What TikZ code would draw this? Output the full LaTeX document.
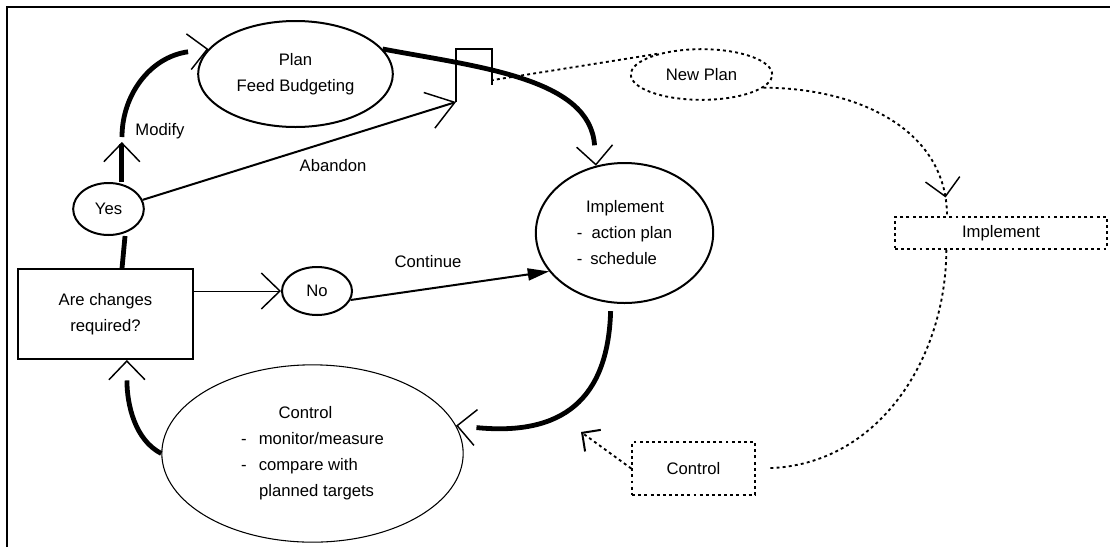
\documentclass[tikz,border=0pt]{standalone}
\usepackage{fontspec}
\setmainfont{Liberation Sans}
\usetikzlibrary{shapes.geometric,arrows.meta,decorations.markings}

\tikzset{
  openV/.tip={Straight Barb[length=14pt,width=27pt,line width=1.1pt]},
  cornerV/.tip={Straight Barb[length=10pt,width=20pt,line width=1.5pt]},
  bubble/.style={draw, ellipse, line width=1.5pt, inner sep=0pt, align=center},
  dotbubble/.style={bubble, line width=1.4pt, dash pattern=on 2.2pt off 2.4pt},
  dotbox/.style={draw, rectangle, line width=1.4pt, dash pattern=on 2.2pt off 2.4pt, inner sep=0pt},
  stem/.style={line width=3.6pt},
  dotflow/.style={line width=1.4pt, dash pattern=on 2.2pt off 2.4pt},
}

\begin{document}
\begin{tikzpicture}[x=0.75pt, y=-0.75pt, font=\fontsize{12.5}{19.5}\selectfont]
    \useasboundingbox (0,0) rectangle (1110,547);
    \draw[line width=1.1pt] (7,547) -- (7,7) -- (1110,7);

    % solid loop
    \node[bubble, minimum width=146pt, minimum height=79.5pt] (plan) at (295.5,74) {Plan\\Feed Budgeting};
    \node[bubble, minimum width=53pt, minimum height=39pt] (yes) at (108.5,209) {Yes};
    \node[draw, line width=1.5pt, minimum width=131pt, minimum height=67.5pt, align=center] (ask) at (105.5,314) {Are changes\\required?};
    \node[bubble, minimum width=52.5pt, minimum height=36pt] (no) at (317,291) {No};
    \node[bubble, minimum width=133pt, minimum height=105pt, align=left] (impl) at (624.5,233)
        {\hspace*{7pt}Implement\\-\hspace{7pt}action plan\\-\hspace{6pt}schedule};
    \node[bubble, line width=0.8pt, minimum width=226pt, minimum height=133pt, align=left] (ctrl) at (312.5,453.5)
        {\hspace*{28pt}Control\\-\hspace{9pt}monitor/measure\\-\hspace{9pt}compare with\\\hspace*{13.5pt}planned targets};

    % dotted loop
    \node[dotbubble, minimum width=106pt, minimum height=38pt] (newplan) at (701.5,74.5) {New Plan};
    \node[dotbox, minimum width=159pt, minimum height=24pt] (implbox) at (1001,233) {Implement};
    \node[dotbox, minimum width=92pt, minimum height=40pt] (ctrlbox) at (693.5,468.5) {Control};

    \node (modlbl) at (160,131) {Modify};
    \node (abdlbl) at (333,166) {Abandon};
    \node (contlbl) at (428,262) {Continue};

    \coordinate (modfoot) at (122,137);
    \coordinate (gate) at (456,102);
    \coordinate (gateright) at (493,80);
    \coordinate (ctrltip) at (581,432);

    \draw[line width=0.8pt] (gate) -- ++(0,-53) -- ++(36,0) -- ++(0,36);

    \draw[stem] ([xshift=12.4pt]ask.north) -- ([xshift=12.4pt]yes.south);
    \draw[stem, -{openV}] ([xshift=10pt]yes.north) -- ++(0,-40);
    \draw[stem, -{. openV[]}] (modfoot) .. controls (122,95) and (150,57) .. (plan.164);
    \draw[line width=1.5pt, -{Straight Barb[length=20pt,width=28pt,line width=1.1pt]}] (yes.15) -- (gate);
    \draw[line width=0.75pt, -{openV}] (no.west -| ask.east) -- (no.west);
    \draw[line width=1.5pt, -{Triangle[length=16pt,width=9pt]}] (no.-15) -- (impl.207);
    \draw[stem, -{. openV[]}] (plan.16) .. controls (478,67) and (590,78) .. (impl.113);
    \draw[stem, shorten <=6pt, -{. openV[]}] (impl.-101) .. controls (608,400) and (562,436) .. (ctrl.11);
    \draw[stem, -{. openV[]}] (ctrl.west) .. controls (135,440) and (127,405) .. ([xshift=16pt]ask.south);

    \draw[dotflow] (newplan.155) -- (gateright);
    \draw[dotflow, postaction={decorate}, decoration={markings,
        mark=at position -14pt with {\arrow{Straight Barb[length=13pt,width=26pt,line width=1.1pt]}}}]
        (newplan.-12) .. controls (859,88) and (947,130) .. ([xshift=-40.5pt]implbox.north);
    \draw[dotflow, shorten >=9.75pt] ([xshift=-41pt]implbox.south) .. controls (946,359) and (878,465) .. (ctrlbox.east);
    \draw[dotflow, -{cornerV}] (ctrlbox.west) -- (ctrltip);
\end{tikzpicture}
\end{document}
